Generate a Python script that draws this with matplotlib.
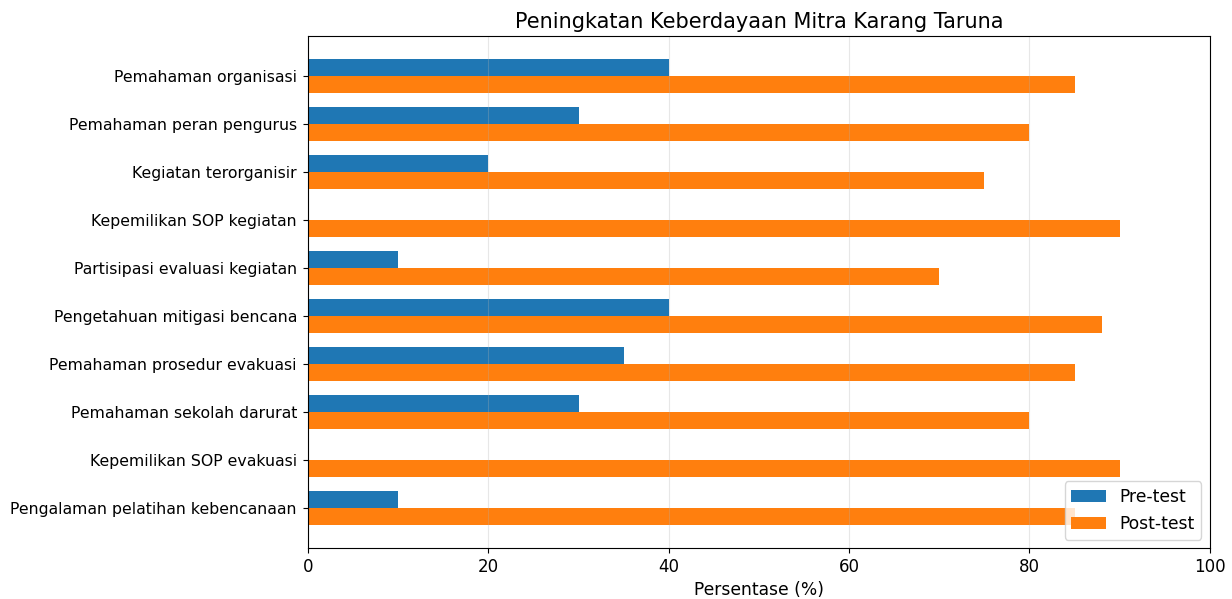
import matplotlib
matplotlib.use("Agg")
import matplotlib.pyplot as plt
import numpy as np

categories = [
    "Pemahaman organisasi",
    "Pemahaman peran pengurus",
    "Kegiatan terorganisir",
    "Kepemilikan SOP kegiatan",
    "Partisipasi evaluasi kegiatan",
    "Pengetahuan mitigasi bencana",
    "Pemahaman prosedur evakuasi",
    "Pemahaman sekolah darurat",
    "Kepemilikan SOP evakuasi",
    "Pengalaman pelatihan kebencanaan",
]
pre_test = [40, 30, 20, 0, 10, 40, 35, 30, 0, 10]
post_test = [85, 80, 75, 90, 70, 88, 85, 80, 90, 85]

fig, ax = plt.subplots(figsize=(12.32, 5.99), dpi=100)
y = np.arange(len(categories))
h = 0.35
ax.barh(y - h / 2, pre_test, h, label="Pre-test", color="#1f77b4")
ax.barh(y + h / 2, post_test, h, label="Post-test", color="#ff7f0e")
ax.set_yticks(y)
ax.set_yticklabels(categories, fontsize=11.3)
ax.invert_yaxis()
ax.set_xlim(0, 100)
ax.tick_params(axis="x", labelsize=12)
ax.tick_params(axis="y", pad=4.5)
ax.set_xlabel("Persentase (%)", fontsize=12.3)
ax.set_title("Peningkatan Keberdayaan Mitra Karang Taruna", fontsize=15)
ax.grid(axis="x", alpha=0.3)
ax.legend(loc="lower right", fontsize=12.3)
fig.subplots_adjust(left=0.25, right=0.982, top=0.94, bottom=0.085)
fig.savefig("out.png")
